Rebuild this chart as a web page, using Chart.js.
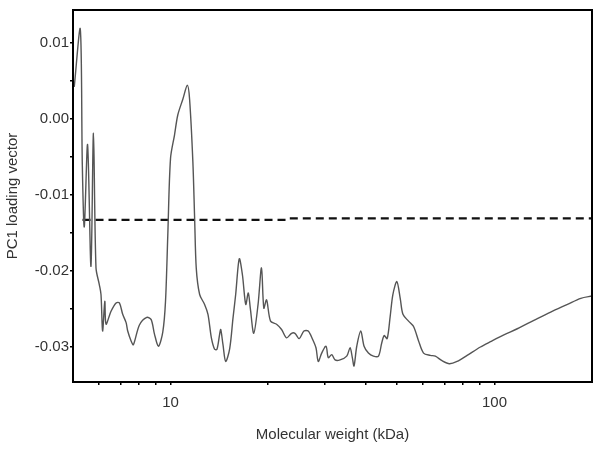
<!DOCTYPE html>
<html>
<head>
<meta charset="utf-8">
<script src="https://cdn.jsdelivr.net/npm/chart.js@4/dist/chart.umd.min.js"></script>
<style>
  body { margin: 0; background: #fff; }
  canvas { display: block; }
</style>
</head>
<body>
<canvas id="pcChart" width="600" height="450"></canvas>
<script>
// molecular weight (kDa) and PC1 loading
const mwKda = [5.045, 5.266, 5.342, 5.417, 5.546, 5.681, 5.783, 5.888, 6.028, 6.101,
  6.171, 6.269, 6.322, 6.552, 6.791, 6.953, 7.118, 7.293, 7.377, 7.556,
  7.68, 8.017, 8.447, 8.716, 8.922, 9.181, 9.467, 9.65, 9.808, 10,
  10.29, 10.53, 10.92, 11.27, 11.45, 11.72, 11.87, 12.01, 12.30, 12.74,
  13.05, 13.37, 13.68, 13.91, 14.18, 14.29, 14.52, 14.80, 15.23, 15.59,
  15.89, 16.30, 16.67, 17.07, 17.38, 17.63, 18.07, 18.63, 19.09, 19.41,
  19.79, 20.36, 21.25, 22.02, 22.82, 23.64, 24.21, 24.96, 25.81, 26.61,
  27.46, 28.12, 28.58, 29.29, 30.2, 30.69, 31.45, 32.2, 33.37, 34.99,
  35.83, 36.41, 36.85, 37.57, 38.66, 39.58, 40.82, 42.30, 43.84, 44.85,
  45.65, 46.64, 47.64, 48.57, 49.97, 51.17, 52.17, 54.29, 56.26, 58.31,
  60.40, 63.37, 65.68, 68.88, 72.56, 76.66, 82.34, 90.50, 97.19, 106.9,
  117.6, 132.3, 149.1, 168.0, 184.7, 200];
const pc1Loading = [0.0042, 0.0118, -0.006, -0.0142, -0.0034, -0.0194, -0.0019, -0.0196, -0.0218, -0.0231,
  -0.0279, -0.024, -0.027, -0.0253, -0.0242, -0.0242, -0.0257, -0.0268, -0.0279, -0.0292,
  -0.0297, -0.0271, -0.0261, -0.0264, -0.0283, -0.0299, -0.028, -0.024, -0.0153, -0.0052,
  -0.0021, 0.0005, 0.0026, 0.0044, 0.0026, -0.0056, -0.0131, -0.0197, -0.0231, -0.0244,
  -0.0257, -0.0288, -0.0303, -0.0303, -0.0283, -0.0277, -0.0297, -0.0319, -0.0302, -0.0262,
  -0.0231, -0.0184, -0.0205, -0.0244, -0.0229, -0.0249, -0.0282, -0.0244, -0.0196, -0.0249,
  -0.0238, -0.0266, -0.027, -0.0277, -0.0288, -0.0282, -0.0282, -0.0289, -0.0279, -0.0279,
  -0.029, -0.0301, -0.0319, -0.0308, -0.0299, -0.0314, -0.031, -0.0317, -0.0317, -0.0312,
  -0.0301, -0.0314, -0.0325, -0.0299, -0.0279, -0.0299, -0.0308, -0.0312, -0.0312, -0.0295,
  -0.0285, -0.0289, -0.026, -0.0231, -0.0214, -0.0236, -0.0257, -0.0266, -0.0273, -0.0292,
  -0.0308, -0.0311, -0.0312, -0.0318, -0.0322, -0.0319, -0.0311, -0.03, -0.0293, -0.0284,
  -0.0276, -0.0265, -0.0254, -0.0244, -0.0236, -0.0233];

// dashed reference line
const refKda = [5.35, 23, 23.2, 200];
const refLoading = [-0.0133, -0.0133, -0.0131, -0.0131];

// ticks
const xTicks = [6, 7, 8, 9, 10, 20, 30, 40, 50, 60, 70, 80, 90, 100];
const xLabelled = [10, 100];
const yTicks = [-0.03, -0.025, -0.02, -0.015, -0.01, -0.005, 0, 0.005, 0.01];
const yLabelled = [-0.03, -0.02, -0.01, 0, 0.01];

const toPoints = (xs, ys) => xs.map((x, i) => ({ x: x, y: ys[i] }));

// full box around the plot
const frame = {
  id: 'frame',
  afterDraw(chart) {
    const a = chart.chartArea;
    const c = chart.ctx;
    c.save();
    c.strokeStyle = '#000';
    c.lineWidth = 2;
    c.strokeRect(a.left, a.top, a.right - a.left, a.bottom - a.top);
    c.restore();
  }
};

const fontFam = '"Liberation Sans", Arial, sans-serif';

new Chart(document.getElementById('pcChart').getContext('2d'), {
  type: 'line',
  data: {
    datasets: [{
      data: toPoints(mwKda, pc1Loading),
      borderColor: '#555',
      borderWidth: 1.4,
      pointRadius: 0,
      tension: 0.3
    }, {
      data: toPoints(refKda, refLoading),
      borderColor: '#111',
      borderWidth: 2.2,
      borderDash: [8, 5],
      pointRadius: 0,
      tension: 0
    }]
  },
  options: {
    responsive: false,
    animation: false,
    layout: { padding: { top: 9, right: 8, left: 0, bottom: 0 } },
    plugins: { legend: { display: false }, tooltip: { enabled: false } },
    scales: {
      x: {
        type: 'logarithmic',
        min: 5,
        max: 200,
        afterBuildTicks: s => { s.ticks = xTicks.map(v => ({ value: v })); },
        afterFit: s => { s.height = 68; },
        border: { display: false },
        grid: { drawOnChartArea: false, tickLength: 3, color: '#000', lineWidth: 1.5 },
        ticks: {
          autoSkip: false,
          maxRotation: 0,
          padding: 9,
          color: '#333',
          font: { family: fontFam, size: 15 },
          callback: v => xLabelled.includes(v) ? String(v) : ''
        },
        title: {
          display: true,
          text: 'Molecular weight (kDa)',
          color: '#333',
          font: { family: fontFam, size: 15 },
          padding: { top: 0, bottom: 6 }
        }
      },
      y: {
        type: 'linear',
        min: -0.0346,
        max: 0.0143,
        afterBuildTicks: s => { s.ticks = yTicks.map(v => ({ value: v })); },
        afterFit: s => { s.width = 73; },
        border: { display: false },
        grid: { drawOnChartArea: false, tickLength: 3, color: '#000', lineWidth: 1.5 },
        ticks: {
          autoSkip: false,
          padding: 1,
          color: '#333',
          font: { family: fontFam, size: 15 },
          callback: v => yLabelled.some(t => Math.abs(t - v) < 1e-9) ? v.toFixed(2) : ''
        },
        title: {
          display: true,
          text: 'PC1 loading vector',
          color: '#333',
          font: { family: fontFam, size: 15 },
          padding: { top: 4, bottom: 4 }
        }
      }
    }
  },
  plugins: [frame]
});
</script>
</body>
</html>
